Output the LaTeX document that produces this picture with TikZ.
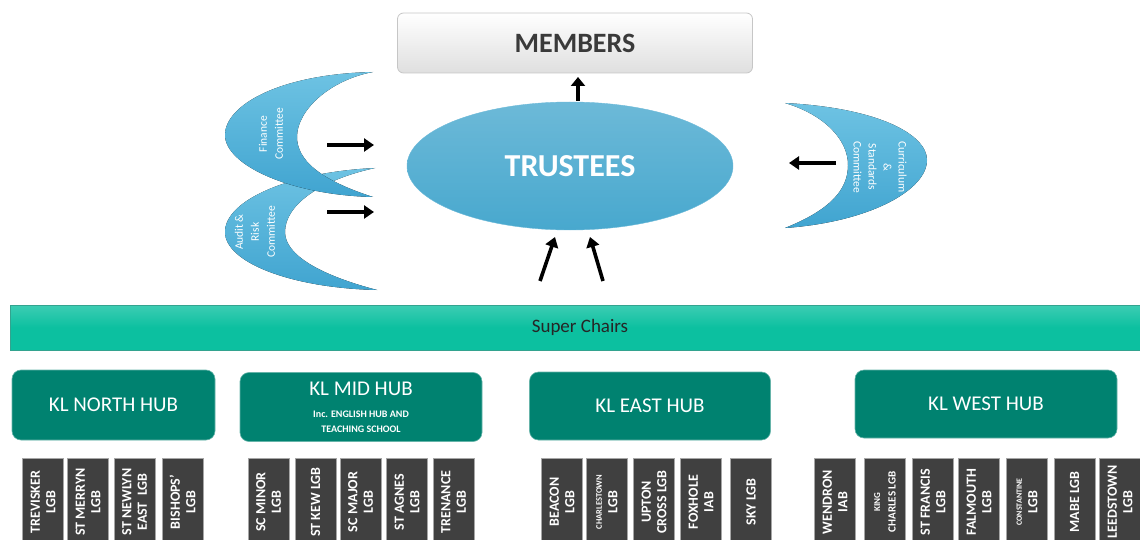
\documentclass[tikz,border=0pt]{standalone}
\usepackage{fontspec}
\setmainfont{Carlito}
\usetikzlibrary{shapes.geometric,arrows.meta,shadows}
\definecolor{crescblue}{RGB}{84,184,222}
\definecolor{crescdark}{RGB}{64,164,208}
\definecolor{trustblue}{RGB}{72,168,206}
\definecolor{superg}{RGB}{12,192,160}
\definecolor{superdark}{RGB}{0,140,115}
\definecolor{hubg}{RGB}{0,130,112}
\definecolor{lgbgray}{RGB}{64,64,64}
\definecolor{memtext}{RGB}{58,58,58}
\tikzset{
  crescent/.style={top color=crescblue!85!white, bottom color=crescdark, draw=none},
  bigarrow/.style={line width=3.6pt, -{Triangle[length=10pt,width=13pt]}},
  hubbox/.style={fill=hubg, rounded corners=9pt, text=white, align=center,
    draw=hubg!60!white, line width=0.6pt, font=\fontsize{21}{25}\selectfont},
  lgbbox/.style={fill=lgbgray, draw=gray!70, line width=0.6pt, rotate=90,
    minimum width=88pt, minimum height=41pt, inner sep=0pt, text=white,
    align=center, font=\bfseries\fontsize{14}{15.5}\selectfont},
  commtext/.style={text=white, align=center, font=\fontsize{11.5}{16}\selectfont}
}
\begin{document}
\begin{tikzpicture}[x=1pt,y=-1pt]
\useasboundingbox (0,0) rectangle (1140,540);

% Members
\node[rectangle, rounded corners=6pt, top color=white, bottom color=gray!25,
  draw=gray!45, line width=0.8pt, minimum width=355pt, minimum height=60pt,
  text=memtext, font=\bfseries\fontsize{28}{30}\selectfont] (members) at (575,43) {MEMBERS};

% Trustees
\node[ellipse, top color=trustblue!80!white, bottom color=trustblue, draw=trustblue!80!white,
  minimum width=326pt, minimum height=128pt, text=white,
  font=\bfseries\fontsize{32}{34}\selectfont] (trustees) at (570,166) {TRUSTEES};

% Audit & Risk committee crescent
\fill[crescent] (375,168) .. controls (290,172) and (225,200) .. (225,232)
  .. controls (225,262) and (290,288) .. (377,290)
  .. controls (320,275) and (285,255) .. (285,232)
  .. controls (285,205) and (320,180) .. (375,168) -- cycle;
\node[commtext, rotate=90] (audit) at (255,232) {Audit \&\\Risk\\Committee};

% Finance committee crescent
\fill[crescent] (373,72) .. controls (280,74) and (225,105) .. (225,135)
  .. controls (225,165) and (290,195) .. (373,197)
  .. controls (320,180) and (297,160) .. (297,137)
  .. controls (297,110) and (330,80) .. (373,72) -- cycle;
\node[commtext, rotate=90] (finance) at (271,134) {Finance\\Committee};

% Curriculum & Standards committee crescent
\fill[crescent] (785,103) .. controls (880,108) and (927,135) .. (927,160)
  .. controls (927,190) and (870,222) .. (785,228)
  .. controls (830,210) and (848,190) .. (848,165)
  .. controls (848,140) and (825,115) .. (785,103) -- cycle;
\node[commtext, rotate=-90, font=\fontsize{11.5}{15}\selectfont] (curric) at (880,167) {Curriculum\\\&\\Standards\\Committee};

% arrow end points
\coordinate (finS) at (327,145); \coordinate (finE) at (374,145);
\coordinate (audS) at (327,212); \coordinate (audE) at (374,212);
\coordinate (curS) at (836,163); \coordinate (curE) at (789,163);
\coordinate (memS) at (578,101); \coordinate (memE) at (578,77);
\coordinate (b1S) at (540,281); \coordinate (b1E) at (555,237);
\coordinate (b2S) at (603,281); \coordinate (b2E) at (590,237);

\draw[bigarrow] (finS) -- (finE);
\draw[bigarrow] (audS) -- (audE);
\draw[bigarrow] (curS) -- (curE);
\draw[line width=3.6pt, -{Triangle[length=9pt,width=14pt]}] (memS) -- (memE);
\draw[bigarrow] (b1S) -- (b1E);
\draw[bigarrow] (b2S) -- (b2E);

% Super Chairs bar
\node[rectangle, top color=superg!80!white, bottom color=superg, middle color=superg,
  draw=superdark!80!white, line width=0.8pt, minimum width=1140pt, minimum height=45pt,
  text=black!85, font=\fontsize{19}{21}\selectfont] (super) at (580,327.5) {Super Chairs};

% Hubs
\node[hubbox, minimum width=203pt, minimum height=70pt] (north) at (113.5,405) {KL NORTH HUB};
\node[hubbox, minimum width=242pt, minimum height=69pt] (mid) at (361,407)
  {KL MID HUB\\[-3pt]{\bfseries\fontsize{10}{12}\selectfont Inc. ENGLISH HUB AND}\\[-10pt]{\bfseries\fontsize{10}{12}\selectfont TEACHING SCHOOL}};
\node[hubbox, minimum width=241pt, minimum height=68pt] (east) at (650,406) {KL EAST HUB};
\node[hubbox, minimum width=262pt, minimum height=68pt] (west) at (986,404) {KL WEST HUB};

% LGB boxes
\foreach \x/\t [count=\i] in {
  43/{TREVISKER\\LGB},
  88/{ST MERRYN\\LGB},
  134.5/{ST NEWLYN\\EAST\ \ LGB},
  182.5/{BISHOPS'\\LGB},
  268.5/{SC MINOR\\LGB},
  315.5/{ST KEW LGB},
  360.5/{SC MAJOR\\LGB},
  407/{ST AGNES\\LGB},
  453.5/{TRENANCE\\LGB},
  562/{BEACON\\LGB},
  607/{{\fontsize{8.5}{10}\selectfont CHARLESTOWN}\\LGB},
  654/{UPTON\\CROSS LGB},
  701/{FOXHOLE\\IAB},
  751/{SKY LGB},
  835/{WENDRON\\IAB},
  885/{{\fontsize{9}{12}\selectfont KING}\\{\fontsize{11}{12}\selectfont CHARLES LGB}},
  933/{ST FRANCIS\\LGB},
  979/{FALMOUTH\\LGB},
  1027/{{\fontsize{8}{10}\selectfont CONSTANTINE}\\LGB},
  1074.5/{MABE LGB},
  1120/{LEEDSTOWN\\LGB}} {
  \node[lgbbox] (lgb\i) at (\x,502) {\t};
}
\end{tikzpicture}
\end{document}
